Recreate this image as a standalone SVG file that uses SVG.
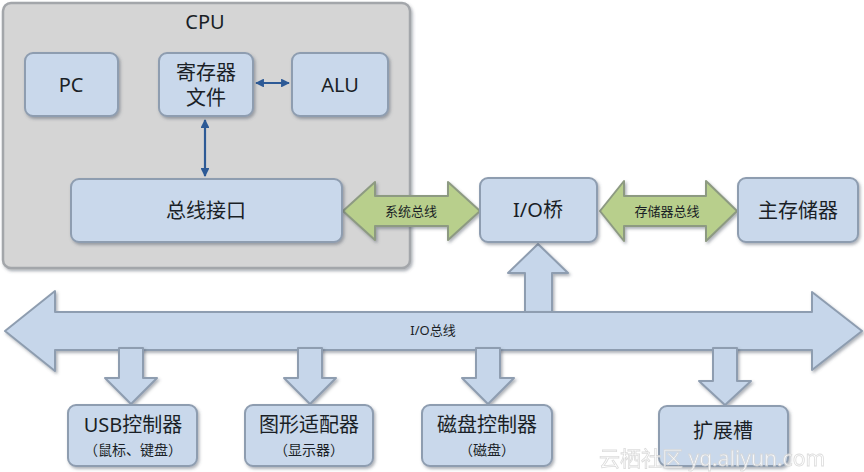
<svg xmlns="http://www.w3.org/2000/svg" width="864" height="472" viewBox="0 0 864 472">
<defs>
<filter id="sh" x="-10%" y="-10%" width="125%" height="130%">
<feDropShadow dx="1.5" dy="2" stdDeviation="1.5" flood-color="#4a5563" flood-opacity="0.45"/>
</filter>
<marker id="ah" viewBox="0 0 10 10" refX="9" refY="5" markerWidth="4" markerHeight="4" orient="auto-start-reverse">
<path d="M0,0 L10,5 L0,10 Z" fill="#2d5a96"/>
</marker>
<style>
.box{fill:#c9d8eb;stroke:#8e9db0;stroke-width:2;filter:url(#sh)}
.cpu{fill:#d5d5d5;stroke:#a3a6aa;stroke-width:2.5;filter:url(#sh)}
.green{fill:#b8cf8c;stroke:#8d9a82;stroke-width:2;stroke-linejoin:round;filter:url(#sh)}
.blue{fill:#c6d6ea;stroke:#8e9db0;stroke-width:2;stroke-linejoin:round;filter:url(#sh)}
.link{stroke:#2d5a96;stroke-width:2.2;fill:none;marker-start:url(#ah);marker-end:url(#ah)}
text{font-family:"Noto Sans","Noto Sans CJK SC",sans-serif;fill:#1a1f26;text-anchor:middle;dominant-baseline:central}
.big{font-size:20px}
.sm{font-size:13px}
.sub{font-size:14px}
</style>
</defs>
<rect width="864" height="472" fill="#ffffff"/>
<g id="cpu">
<rect class="cpu" x="3" y="3" width="407" height="265" rx="8"/>
<text x="205" y="21" font-size="20">CPU</text>
</g>
<g id="connectors">
<path class="link" d="M256,83 L289,83"/>
<path class="link" d="M205,120 L205,176"/>
<path class="green" d="M343,211 L375,182 L375,196 L448,196 L448,182 L480,211 L448,240 L448,226 L375,226 L375,240 Z"/>
<text class="sm" x="411" y="211">系统总线</text>
<path class="green" d="M600,211 L624,181 L624,196 L706,196 L706,181 L737,211 L706,241 L706,226 L624,226 L624,241 Z"/>
<text class="sm" x="667" y="211">存储器总线</text>
<path class="blue" d="M538,244 L568,273 L552,273 L552,316 L525,316 L525,273 L508,273 Z"/>
<path class="blue" d="M5,331 L55,291 L55,312 L812,312 L812,292 L862,331 L812,370 L812,350 L55,350 L55,371 Z"/>
<text class="sm" x="433" y="330">I/O总线</text>
<path class="blue" d="M119,348 L143,348 L143,378 L157,378 L131,404 L105,378 L119,378 Z"/>
<path class="blue" d="M298,348 L322,348 L322,378 L336,378 L310,404 L284,378 L298,378 Z"/>
<path class="blue" d="M476,348 L500,348 L500,378 L514,378 L488,404 L462,378 L476,378 Z"/>
<path class="blue" d="M713,348 L737,348 L737,381 L751,381 L725,405 L699,381 L713,381 Z"/>
</g>
<g id="pc">
<rect class="box" x="25" y="53" width="93" height="63" rx="8"/>
<text class="big" x="71" y="84">PC</text>
</g>
<g id="regfile">
<rect class="box" x="159" y="53" width="94" height="63" rx="8"/>
<text class="big" x="206" y="72">寄存器</text>
<text class="big" x="206" y="97">文件</text>
</g>
<g id="alu">
<rect class="box" x="292" y="53" width="96" height="63" rx="8"/>
<text class="big" x="340" y="84">ALU</text>
</g>
<g id="businterface">
<rect class="box" x="71" y="179" width="271" height="63" rx="8"/>
<text class="big" x="206" y="210">总线接口</text>
</g>
<g id="iobridge">
<rect class="box" x="480" y="178" width="117" height="64" rx="8"/>
<text class="big" x="538" y="209">I/O桥</text>
</g>
<g id="mainmem">
<rect class="box" x="738" y="178" width="120" height="64" rx="8"/>
<text class="big" x="798" y="210">主存储器</text>
</g>
<g id="usb">
<rect class="box" x="68" y="405" width="129" height="61" rx="8"/>
<text class="big" x="133" y="424">USB控制器</text>
<text class="sub" x="133" y="449">（鼠标、键盘）</text>
</g>
<g id="graphics">
<rect class="box" x="245" y="405" width="128" height="61" rx="8"/>
<text class="big" x="309" y="424">图形适配器</text>
<text class="sub" x="309" y="449">（显示器）</text>
</g>
<g id="disk">
<rect class="box" x="422" y="405" width="130" height="61" rx="8"/>
<text class="big" x="487" y="424">磁盘控制器</text>
<text class="sub" x="487" y="449">（磁盘）</text>
</g>
<g id="expansion">
<rect class="box" x="659" y="406" width="129" height="60" rx="8"/>
<text class="big" x="723" y="430">扩展槽</text>
</g>
<text x="712" y="458" font-size="21" style="fill:#ffffff;stroke:#d6d6d6;stroke-width:0.8;opacity:0.85">云栖社区 yq.aliyun.com</text>
</svg>
